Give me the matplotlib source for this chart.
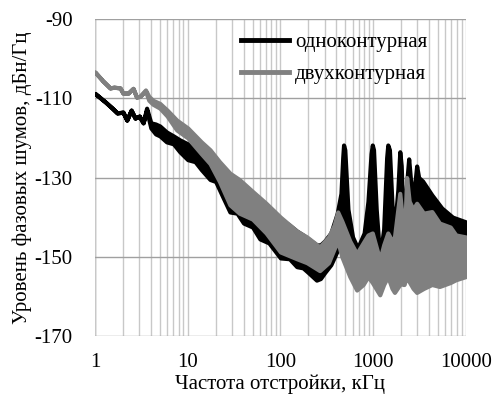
import numpy as np
import matplotlib.pyplot as plt
from matplotlib.lines import Line2D
from matplotlib.ticker import LogLocator, FixedLocator

plt.rcParams['font.family'] = ['Liberation Serif', 'DejaVu Serif']
plt.rcParams['axes.unicode_minus'] = False

# single loop synthesizer (black): offset frequency, kHz / upper and lower edge of the trace, dBc/Hz
f_one = [1, 1.3, 1.5, 1.73, 2.0, 2.2, 2.45, 2.7, 3.0, 3.3, 3.6, 4.0, 4.5, 5, 5.9, 7, 8.2,
         10, 12, 14, 17.4, 20, 24, 28.5, 34, 40, 50, 60, 75, 100, 125, 150, 175, 200, 245,
         270, 300, 350, 410, 450,
         470, 480, 495, 535, 600, 680, 800, 880, 950, 980, 1010, 1080, 1180, 1300,
         1400, 1440, 1500, 1600, 1700, 1850, 1940, 2010, 2100, 2200, 2420, 2520,
         2700, 2950, 3100, 3420, 4300, 5500, 7200, 10000]
up_one = [-108.8, -111, -112.3, -113.7, -113.5, -115.5, -113, -115, -114.5, -116.2, -112.5,
          -116.2, -116.5, -117, -118.5, -119.5, -120.5,
          -121.5, -123, -124, -126, -127, -128.5, -130, -131.5,
          -133, -134.5, -136, -138, -140.5, -142, -143.5, -144.5, -145.5, -147,
          -147, -146, -144, -139, -134,
          -125, -121.8, -123, -138, -145, -147.8, -144, -136, -124, -121.8,
          -123, -138, -150.3, -143, -125, -121.8, -123, -137, -143, -133,
          -123.5, -127, -140, -137, -125.3, -130, -136, -127.1, -130, -130.9,
          -134.4, -137.7, -140, -141.2]
lo_one = [-108.8, -111, -112.3, -113.7, -113.5, -115.5, -113, -115, -114.5, -116.2, -113,
          -117.5, -119, -119.5, -121, -121.5, -123.5,
          -125.5, -126, -128, -130.5, -131, -135, -138.7, -139,
          -141.5, -142.5, -145.5, -146.5, -150.3, -150.5, -152.5, -152.8, -154, -155.9,
          -155.5, -154, -152, -148.5, -148,
          -149, -150, -151, -152, -153, -153, -152, -152, -152, -152,
          -152, -152, -153, -152, -152, -152, -152, -152, -152, -152,
          -152, -153, -155, -152, -152, -152, -152, -152, -152, -152,
          -152, -152, -152, -152]

# double loop synthesizer (gray)
f_two = [1, 1.2, 1.45, 1.6, 1.86, 2.0, 2.27, 2.57, 2.8, 3.05, 3.5, 3.8, 4.2, 5, 6, 7.6, 10, 14,
         17.4, 22, 28.5, 36, 50, 70, 100, 150, 193, 265, 330, 380, 415, 460, 560, 665, 780,
         880, 980, 1180, 1300, 1440, 1600, 1700, 1940, 2060, 2100, 2160, 2220,
         2300, 2450, 2700, 2950, 3500, 4300, 5200, 6800, 7800, 10000]
up_two = [-103.4, -105.5, -107.4, -107.2, -107.4, -108.7, -108.7, -107.5, -109.7, -109.5, -107.9,
          -109.5, -110.5, -111.3, -113, -115.5, -117.5, -121,
          -123, -126, -128.9, -130.5, -133.5, -136.5, -140, -143.5,
          -145, -147.5, -145, -142, -138.7, -141, -146, -149.2, -146.5, -144.5,
          -144, -150.8, -147, -144, -146, -145, -134, -140, -153, -154,
          -140, -130, -136, -138, -136.5, -139, -138.6, -141.5, -142.5, -144.5,
          -145]
lo_two = [-103.4, -105.5, -107.4, -107.2, -107.4, -108.7, -108.7, -107.5, -109.7, -109.5, -108.2,
          -110.5, -111.5, -112.5, -114.5, -118, -120, -124,
          -126.5, -131, -136.9, -139, -140.5, -144, -148.8, -150.5,
          -151.5, -153.5, -151.5, -148, -146, -150, -155, -158.4, -157, -155,
          -156.5, -159.6, -157, -155, -158, -159, -157, -156, -157, -157,
          -156, -155, -156.3, -158, -159, -158, -157, -157.5, -156.5, -155.8,
          -155]

names = ['одноконтурная', 'двухконтурная']
colors = ['#000000', '#808080']

fig = plt.figure(figsize=(4.95, 3.96), dpi=100)
ax = fig.add_axes([0.192, 0.1515, 0.749, 0.8005])

ax.fill_between(f_one, lo_one, up_one, color=colors[0], lw=3, joinstyle='round')
ax.fill_between(f_two, lo_two, up_two, color=colors[1], lw=3, joinstyle='round')

ax.set_xscale('log')
ax.set_xlim(1, 10000)
ax.set_ylim(-170, -90)
ax.set_yticks([-170, -150, -130, -110, -90])
ax.xaxis.set_minor_locator(LogLocator(base=10, subs=np.arange(2, 10)))
ax.xaxis.set_major_locator(FixedLocator([1, 10, 100, 1000, 10000]))
ax.set_xticklabels(['1', '10', '100', '1000', '10000'])
ax.tick_params(axis='both', which='both', length=0, labelsize=15)
ax.tick_params(axis='y', pad=16)
ax.tick_params(axis='x', pad=12)

ax.grid(True, axis='x', which='both', color='#c8c8c8', lw=1)
ax.grid(True, axis='y', which='major', color='#a0a0a0', lw=1)
ax.set_axisbelow(True)
for s in ax.spines.values():
    s.set_visible(False)
ax.axvline(1, color='#a0a0a0', lw=1, zorder=0)

ax.set_xlabel('Частота отстройки, кГц', fontsize=15, labelpad=2)
ax.set_ylabel('Уровень фазовых шумов, дБн/Гц', fontsize=15, labelpad=2)

handles = [Line2D([], [], color=c, lw=3.5) for c in colors]
ax.legend(handles, names, loc='upper left', bbox_to_anchor=(0.365, 0.99),
          frameon=False, fontsize=15, handlelength=2.3, handletextpad=0.3,
          labelspacing=0.6, borderaxespad=0.1)

fig.savefig('out.png', dpi=100)
